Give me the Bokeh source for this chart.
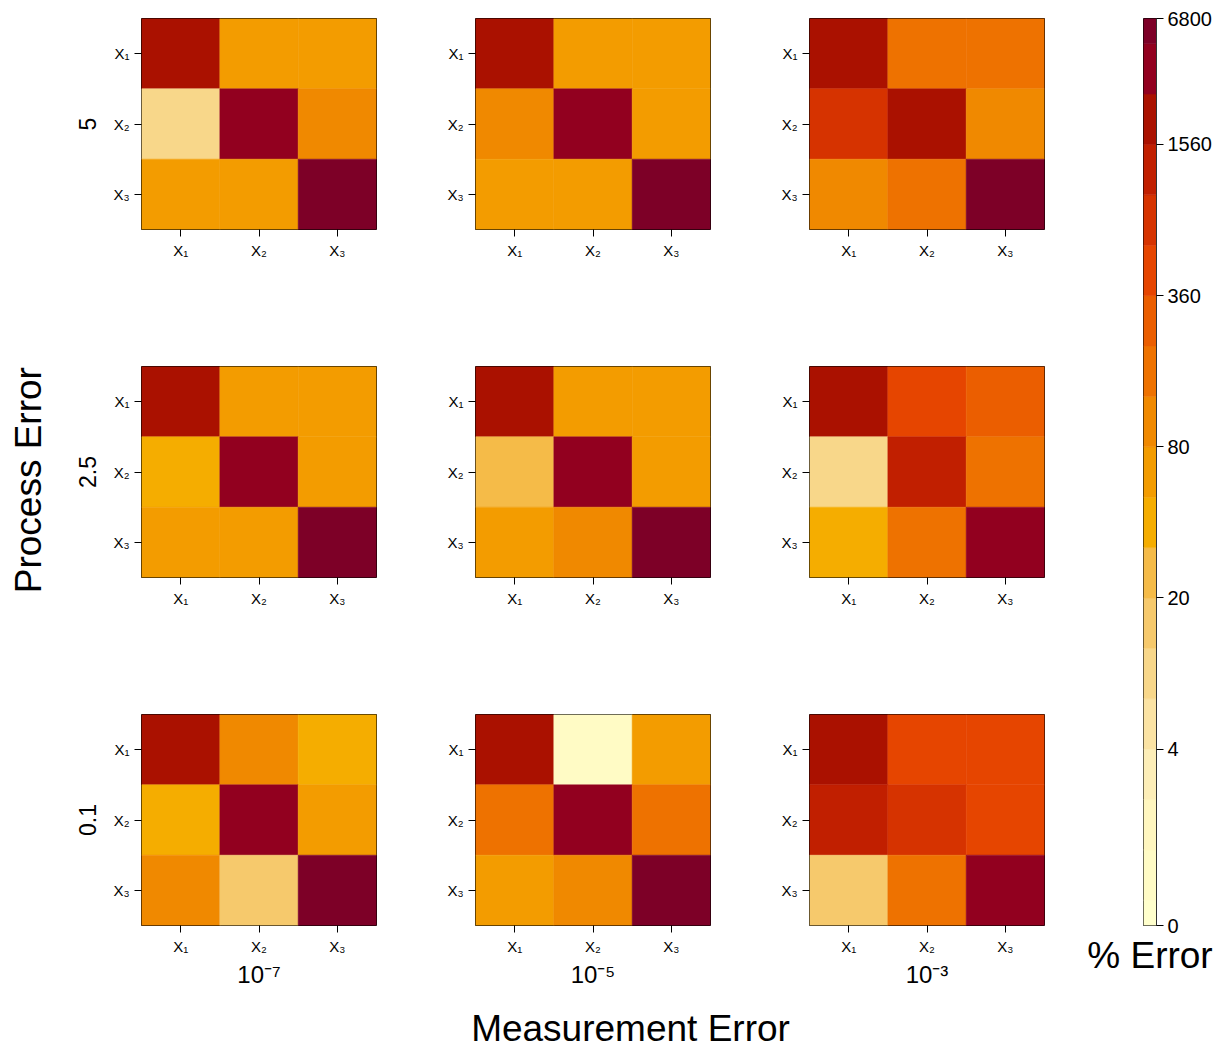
import numpy as np
from bokeh.plotting import figure
from bokeh.models import ColumnDataSource, FactorRange, Range1d, LinearColorMapper, FixedTicker
from bokeh.transform import transform
from bokeh.layouts import row, column
from bokeh.embed import file_html
from bokeh.resources import INLINE
from bokeh.core.properties import value

FONT = "Liberation Sans"

variables = ["X₁", "X₂", "X₃"]
process_levels = ["5", "2.5", "0.1"]
measurement_levels = ["10⁻⁷", "10⁻⁵", "10⁻³"]

# % error of each estimate; rows = X1..X3, columns = X1..X3
err_p5_m7 = [[2650, 68, 66], [12.0, 4620, 125], [70, 67, 6480]]
err_p5_m5 = [[2580, 71, 69], [118, 4750, 66], [72, 70, 6530]]
err_p5_m3 = [[2710, 215, 228], [980, 2560, 130], [122, 236, 6600]]
err_p25_m7 = [[2620, 69, 71], [51, 4680, 70], [68, 67, 6450]]
err_p25_m5 = [[2590, 70, 68], [31, 4710, 72], [66, 128, 6510]]
err_p25_m3 = [[2640, 590, 310], [12.5, 1370, 220], [49, 225, 4800]]
err_p01_m7 = [[2600, 126, 50], [52, 4660, 69], [124, 17.5, 6420]]
err_p01_m5 = [[2570, 1.2, 67], [218, 4740, 224], [71, 131, 6490]]
err_p01_m3 = [[2680, 575, 610], [1390, 950, 560], [17.0, 230, 4650]]

panels = [
    [err_p5_m7, err_p5_m5, err_p5_m3],
    [err_p25_m7, err_p25_m5, err_p25_m3],
    [err_p01_m7, err_p01_m5, err_p01_m3],
]

# colour key: labelled values and the step of the key each one sits on
key_values = [0, 4, 20, 80, 360, 1560, 6800]
key_steps = [0, 3.5, 6.5, 9.5, 12.5, 15.5, 18]

palette = [
    "#FFFFCC", "#FFFBC5", "#FFF6BF", "#FDEEB8", "#FBE3A4", "#F8D78A", "#F6C96C",
    "#F5BB48", "#F5AD00", "#F39C00", "#F08900", "#EE7200", "#EB5E00", "#E64500",
    "#D63300", "#C11F00", "#AA1100", "#92001F", "#7D0027",
]
mapper = LinearColorMapper(palette=palette, low=-0.5, high=len(palette) - 0.5)


def to_step(v):
    return float(np.interp(v, key_values, key_steps))


def heat_panel(matrix, row_label=None, col_label=None, first_col=False, last_row=False):
    xs, ys, us, pct = [], [], [], []
    for i, r in enumerate(variables):
        for j, c in enumerate(variables):
            xs.append(c)
            ys.append(r)
            pct.append(matrix[i][j])
            us.append(to_step(matrix[i][j]))
    src = ColumnDataSource(dict(x=xs, y=ys, u=us, pct=pct))
    p = figure(width=320 if first_col else 334, height=300 if last_row else 348,
               x_range=FactorRange(*variables), y_range=FactorRange(*variables[::-1]),
               output_backend="svg", toolbar_location=None,
               min_border_left=81 if first_col else 95, min_border_right=4, min_border_top=18,
               min_border_bottom=71 if last_row else 119)
    p.rect(x="x", y="y", width=1, height=1, source=src,
           fill_color=transform("u", mapper), line_color=transform("u", mapper),
           line_width=0.5)
    p.grid.visible = False
    p.outline_line_color = "black"
    p.outline_line_width = 1
    p.background_fill_color = "white"
    for ax in (p.xaxis[0], p.yaxis[0]):
        ax.axis_line_color = None
        ax.major_tick_in = 0
        ax.major_tick_out = 7
        ax.major_tick_line_color = "black"
        ax.major_label_text_font = FONT
        ax.major_label_text_font_size = "15px"
        ax.major_label_text_color = "black"
        ax.major_label_standoff = 5
        ax.axis_label_text_font = FONT
        ax.axis_label_text_font_style = "normal"
        ax.axis_label_text_color = "black"
    if row_label is not None:
        p.yaxis.axis_label = row_label
        p.yaxis.axis_label_text_font_size = "23px"
        p.yaxis.axis_label_standoff = 14
    if col_label is not None:
        p.xaxis.axis_label = col_label
        p.xaxis.axis_label_text_font_size = "24px"
        p.xaxis.axis_label_standoff = 3
    return p


rows = []
for i, plev in enumerate(process_levels):
    figs = []
    for j, mlev in enumerate(measurement_levels):
        figs.append(heat_panel(panels[i][j],
                               row_label=plev if j == 0 else None,
                               col_label=mlev if i == len(process_levels) - 1 else None,
                               first_col=(j == 0),
                               last_row=(i == len(process_levels) - 1)))
    rows.append(row(*figs, spacing=0))
grid = column(*rows, spacing=0)
GRID_H = 348 + 348 + 300

# colour key
cb = figure(width=180, height=GRID_H, x_range=Range1d(0, 1), y_range=Range1d(0, key_steps[-1]),
            output_backend="svg", toolbar_location=None, y_axis_location="right",
            min_border_left=95, min_border_right=72, min_border_top=18,
            min_border_bottom=GRID_H - 925)
band = list(range(len(palette)))
cb_src = ColumnDataSource(dict(
    u=band,
    bottom=[max(k - 0.5, key_steps[0]) for k in band],
    top=[min(k + 0.5, key_steps[-1]) for k in band],
))
cb.quad(left=0, right=1, bottom="bottom", top="top", source=cb_src,
        fill_color=transform("u", mapper), line_color=transform("u", mapper), line_width=0.5)
cb.grid.visible = False
cb.outline_line_color = "black"
ya = cb.yaxis[0]
ya.ticker = FixedTicker(ticks=key_steps)
ya.major_label_overrides = {float(s): str(v) for s, v in zip(key_steps, key_values)}
ya.minor_tick_line_color = None
ya.major_tick_in = 0
ya.major_tick_out = 7
ya.major_tick_line_color = "black"
ya.axis_line_color = "#333333"
ya.major_label_text_font = FONT
ya.major_label_text_font_size = "20px"
ya.major_label_text_color = "black"
ya.major_label_standoff = 4
xa = cb.xaxis[0]
xa.ticker = FixedTicker(ticks=[])
xa.minor_tick_line_color = None
xa.major_tick_line_color = None
xa.axis_line_color = None
xa.major_label_text_font_size = "0px"
xa.axis_label = "% Error"
xa.axis_label_text_font = FONT
xa.axis_label_text_font_size = "37px"
xa.axis_label_text_font_style = "normal"
xa.axis_label_text_color = "black"
xa.axis_label_standoff = 9

# side titles
LEFT_W = 60
left = figure(width=LEFT_W, height=GRID_H, x_range=Range1d(0, LEFT_W), y_range=Range1d(0, GRID_H),
              output_backend="svg", toolbar_location=None, min_border=0,
              x_axis_type=None, y_axis_type=None)
left.grid.visible = False
left.outline_line_color = None
left.text(x=[28], y=[GRID_H - 507], text=["Process Error"], angle=np.pi / 2,
          text_align="center", text_baseline="middle",
          text_font=value(FONT), text_font_size="37px", text_color="black")

BOTTOM_H = 1048 - GRID_H
bottom = figure(width=1228, height=BOTTOM_H, x_range=Range1d(0, 1228), y_range=Range1d(0, BOTTOM_H),
                output_backend="svg", toolbar_location=None, min_border=0,
                x_axis_type=None, y_axis_type=None)
bottom.grid.visible = False
bottom.outline_line_color = None
bottom.text(x=[630], y=[BOTTOM_H - (1028 - GRID_H)], text=["Measurement Error"],
            text_align="center", text_baseline="middle",
            text_font=value(FONT), text_font_size="37px", text_color="black")

page = column(row(left, grid, cb, spacing=0), bottom, spacing=0)

with open("out.html", "w") as f:
    f.write(file_html(page, INLINE))
